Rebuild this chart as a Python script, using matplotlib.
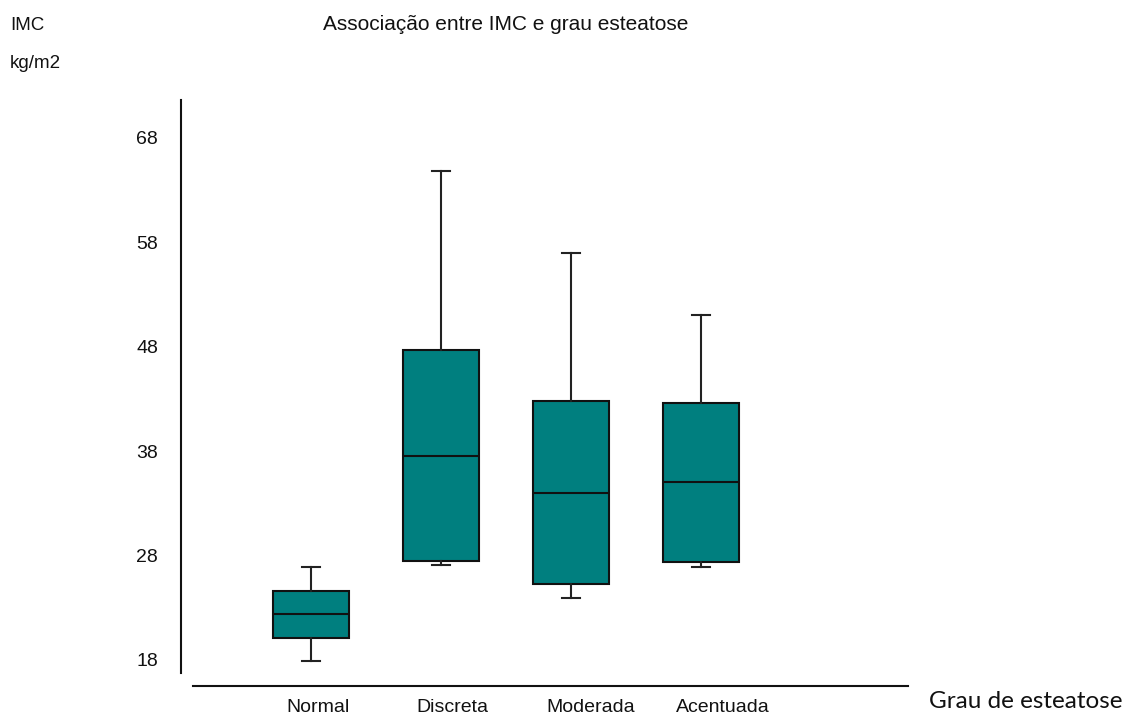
import matplotlib
matplotlib.use("Agg")
import matplotlib.pyplot as plt
import matplotlib.transforms as mtransforms

# IMC (kg/m2) por grau de esteatose
grupos = ['Normal', 'Discreta', 'Moderada', 'Acentuada']
minimo = [17.9, 27.1, 23.9, 26.9]
q1 = [20.1, 27.5, 25.3, 27.4]
mediana = [22.4, 37.5, 34.0, 35.0]
q3 = [24.6, 47.7, 42.8, 42.6]
maximo = [26.9, 64.8, 57.0, 51.0]
y_ticks = [18, 28, 38, 48, 58, 68]

plt.rcParams['font.family'] = ['Liberation Sans', 'DejaVu Sans']

fig = plt.figure(figsize=(11.35, 7.23), dpi=100)
ax = fig.add_axes([0.1595, 0.0692, 0.6405, 0.7925])

stats = []
for i in range(len(grupos)):
    stats.append({'label': grupos[i], 'whislo': minimo[i], 'q1': q1[i],
                  'med': mediana[i], 'q3': q3[i], 'whishi': maximo[i]})

ax.bxp(stats, positions=[1, 2, 3, 4], widths=0.585, capwidths=0.14,
       showfliers=False, patch_artist=True,
       boxprops=dict(facecolor='#007f7f', edgecolor='#111111', linewidth=1.5),
       medianprops=dict(color='#111111', linewidth=1.5),
       whiskerprops=dict(color='#222222', linewidth=1.5),
       capprops=dict(color='#222222', linewidth=1.5))

ax.set_xlim(0, 5.592)
ax.set_ylim(16.755, 71.64)
ax.set_yticks(y_ticks)
ax.set_yticklabels([str(v) for v in y_ticks])
ax.set_xticks([1, 2, 3, 4])
ax.set_xticklabels(grupos)

for s in ['top', 'right']:
    ax.spines[s].set_visible(False)
ax.spines['left'].set_linewidth(1.5)
ax.spines['left'].set_color('#111111')
ax.spines['bottom'].set_linewidth(1.5)
ax.spines['bottom'].set_color('#111111')
ax.spines['bottom'].set_position(('outward', 9.4))
ax.spines['bottom'].set_bounds(0.09, 5.592)

ax.tick_params(axis='y', length=0, pad=16.5, labelsize=14, labelcolor='#111111')
ax.tick_params(axis='x', length=0, pad=9.5, labelsize=14, labelcolor='#111111')

# os nomes dos grupos ficam alinhados a esquerda, um pouco antes da caixa
shift = mtransforms.ScaledTranslation(-0.25, 0, fig.dpi_scale_trans)
for lbl in ax.get_xticklabels():
    lbl.set_horizontalalignment('left')
    lbl.set_transform(lbl.get_transform() + shift)

W, H = 1135.0, 723.0
fig.text(323 / W, 1 - 24 / H, 'Associação entre IMC e grau esteatose',
         ha='left', va='center', fontsize=15, color='#111111')
fig.text(10 / W, 1 - 25 / H, 'IMC', ha='left', va='center', fontsize=13.5, color='#111111')
fig.text(10 / W, 1 - 63 / H, 'kg/m2', ha='left', va='center', fontsize=13.5, color='#111111')
fig.text(929 / W, 1 - 702 / H, 'Grau de esteatose', ha='left', va='center',
         fontsize=17.5, family=['Lato', 'DejaVu Sans'], color='#111111')

plt.savefig('out.png', dpi=100)
